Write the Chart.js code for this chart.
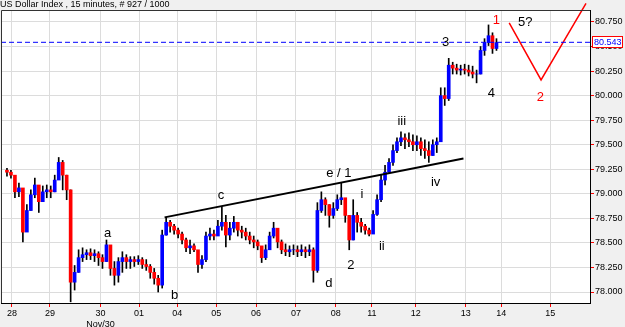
<!DOCTYPE html>
<html>
<head>
<meta charset="utf-8">
<title>US Dollar Index 15 minutes</title>
<script src="https://cdn.jsdelivr.net/npm/chart.js@4.4.1/dist/chart.umd.min.js"></script>
<style>
  html, body { margin: 0; padding: 0; background: #f0f0f0; }
  #wrap { width: 625px; height: 327px; }
</style>
</head>
<body>
<div id="wrap"><canvas id="chart" width="625" height="327"></canvas></div>
<script>
// ── Data ────────────────────────────────────────────────────
const chartTitle = "US Dollar Index , 15 minutes, # 927 / 1000";

// x axis is in bar slots (one slot per plotted bar)
const dayTicks = [2.75, 12.3, 25.0, 34.7, 44.3, 54.1, 64.1, 74.1, 84.1, 93.2, 104.2, 116.8, 125.7, 138.0];
const dayLabels = ["28", "29", ["30", "Nov/30"], "01", "04", "05", "06", "07", "08", "11", "12", "13", "14", "15"];
const priceTicks = [78.0, 78.25, 78.5, 78.75, 79.0, 79.25, 79.5, 79.75, 80.0, 80.25, 80.5, 80.75];

const firstOpen = 79.24;
const highs = [
  79.26, 79.24, 79.08, 79.11, 78.89, 78.89, 79.04, 79.16, 79.04, 79.08, 79.09, 79.08, 79.19, 79.37, 79.34, 79.19,
  79.04, 78.27, 78.43, 78.45, 78.43, 78.44, 78.43, 78.41, 78.38, 78.53, 78.38, 78.31, 78.35, 78.41, 78.38, 78.36, 78.36, 78.37,
  78.35, 78.33, 78.28, 78.24, 78.17, 78.63, 78.76, 78.73, 78.69, 78.65, 78.61, 78.55, 78.53, 78.49, 78.41, 78.37,
  78.61, 78.65, 78.63, 78.73, 78.87, 78.78, 78.71, 78.77, 78.71, 78.67, 78.65, 78.61, 78.57, 78.53, 78.45, 78.48,
  78.61, 78.71, 78.63, 78.53, 78.49, 78.47, 78.48, 78.47, 78.48, 78.46, 78.48, 78.45, 78.91, 79.02, 78.96, 78.89,
  78.91, 78.99, 79.11, 78.94, 78.78, 78.94, 78.81, 78.75, 78.69, 78.65, 78.83, 78.99, 79.19, 79.29, 79.36, 79.50,
  79.57, 79.63, 79.61, 79.62, 79.60, 79.59, 79.57, 79.55, 79.53, 79.55, 79.57, 80.08, 80.08, 80.38, 80.34, 80.32,
  80.31, 80.32, 80.31, 80.30, 80.26, 80.50, 80.58, 80.72, 80.64, 80.58
];
const lows = [
  79.18, 79.16, 78.96, 78.97, 78.51, 78.71, 78.83, 78.96, 78.81, 78.94, 78.96, 78.96, 79.02, 79.16, 79.04, 78.94,
  77.90, 78.02, 78.20, 78.31, 78.33, 78.33, 78.31, 78.27, 78.24, 78.31, 78.17, 78.07, 78.10, 78.20, 78.24, 78.24, 78.26, 78.28,
  78.24, 78.22, 78.14, 78.08, 78.00, 78.04, 78.58, 78.61, 78.59, 78.55, 78.49, 78.41, 78.39, 78.41, 78.20, 78.24,
  78.31, 78.53, 78.53, 78.59, 78.63, 78.46, 78.53, 78.61, 78.57, 78.55, 78.53, 78.49, 78.45, 78.43, 78.30, 78.33,
  78.45, 78.55, 78.45, 78.39, 78.37, 78.36, 78.38, 78.36, 78.37, 78.35, 78.37, 78.10, 78.20, 78.81, 78.78, 78.66,
  78.75, 78.83, 78.89, 78.71, 78.43, 78.53, 78.61, 78.61, 78.59, 78.57, 78.71, 78.78, 78.92, 79.09, 79.22, 79.29,
  79.42, 79.49, 79.46, 79.48, 79.44, 79.44, 79.39, 79.36, 79.32, 79.39, 79.42, 79.55, 79.90, 79.95, 80.22, 80.22,
  80.21, 80.22, 80.20, 80.18, 80.13, 80.22, 80.41, 80.51, 80.43, 80.46
];
const closes = [
  79.22, 79.19, 79.02, 79.06, 78.61, 78.83, 78.99, 79.09, 78.92, 79.02, 79.04, 79.02, 79.14, 79.32, 79.19, 79.04,
  78.10, 78.20, 78.35, 78.38, 78.40, 78.37, 78.39, 78.35, 78.31, 78.48, 78.24, 78.17, 78.31, 78.35, 78.31, 78.33, 78.31, 78.33,
  78.28, 78.26, 78.20, 78.14, 78.07, 78.58, 78.71, 78.67, 78.63, 78.59, 78.53, 78.45, 78.47, 78.43, 78.28, 78.33,
  78.57, 78.59, 78.57, 78.67, 78.71, 78.58, 78.65, 78.71, 78.63, 78.61, 78.57, 78.53, 78.51, 78.47, 78.35, 78.43,
  78.57, 78.65, 78.51, 78.43, 78.41, 78.43, 78.43, 78.41, 78.43, 78.41, 78.43, 78.22, 78.83, 78.94, 78.89, 78.78,
  78.85, 78.94, 78.96, 78.78, 78.53, 78.78, 78.71, 78.67, 78.63, 78.59, 78.79, 78.94, 79.14, 79.22, 79.32, 79.44,
  79.53, 79.57, 79.55, 79.53, 79.50, 79.53, 79.46, 79.44, 79.39, 79.50, 79.53, 80.00, 79.97, 80.31, 80.28, 80.26,
  80.27, 80.26, 80.24, 80.22, 80.22, 80.46, 80.54, 80.61, 80.48, 80.54
];
const lastPrice = 80.543;

// drawn lines: support trendline and the projected path
const trendX = [41.1, 116.2];
const trendY = [78.76, 79.36];
const projX = [127.7, 135.7, 147.0];
const projY = [80.74, 80.16, 80.94];

// wave counts written on the chart
const waveText = ["a", "b", "c", "d", "e / 1", "2", "i", "ii", "iii", "iv", "3", "4", "1", "5?", "2"];
const waveX = [26.8, 43.6, 55.3, 82.4, 84.9, 87.9, 90.7, 95.7, 100.7, 109.2, 111.7, 123.2, 124.5, 131.7, 135.5];
const waveY = [78.60, 77.97, 78.98, 78.09, 79.21, 78.27, 78.99, 78.46, 79.74, 79.12, 80.54, 80.02, 80.77, 80.75, 79.98];
const redWaves = [12, 14];

// ── Build datasets ──────────────────────────────────────────
const opens = closes.map((c, i) => (i === 0 ? firstOpen : closes[i - 1]));
const wickData = highs.map((h, i) => ({ x: i + 1.5, y: [lows[i], h] }));
const bodyData = closes.map((c, i) => ({ x: i + 1.5, y: [opens[i], c] }));
const bodyColors = closes.map((c, i) => (c >= opens[i] ? "#0000ff" : "#ff0000"));

const FONT = "'Liberation Sans', Arial, sans-serif";

// ── Decorations: backgrounds, frame, title, labels ──────────
const decor = {
  id: "decor",
  beforeDraw(chart) {
    const { ctx, chartArea: a } = chart;
    ctx.save();
    ctx.fillStyle = "#f0f0f0";
    ctx.fillRect(0, 0, chart.width, chart.height);
    ctx.fillStyle = "#ffffff";
    ctx.fillRect(a.left, a.top, a.right - a.left, a.bottom - a.top);
    ctx.restore();
  },
  afterDatasetsDraw(chart) {
    const { ctx, chartArea: a, scales } = chart;
    ctx.save();
    // left and top frame lines
    ctx.strokeStyle = "#333";
    ctx.lineWidth = 1;
    ctx.beginPath();
    ctx.moveTo(a.left + 0.5, a.bottom);
    ctx.lineTo(a.left + 0.5, a.top + 0.5);
    ctx.lineTo(a.right, a.top + 0.5);
    ctx.stroke();

    // wave labels
    ctx.font = "13px " + FONT;
    ctx.textAlign = "center";
    ctx.textBaseline = "middle";
    waveText.forEach((t, i) => {
      ctx.fillStyle = redWaves.includes(i) ? "#ff0000" : "#000000";
      ctx.fillText(t, scales.x.getPixelForValue(waveX[i]), scales.y.getPixelForValue(waveY[i]));
    });

    // title
    ctx.fillStyle = "#000";
    ctx.font = "9px " + FONT;
    ctx.textAlign = "left";
    ctx.fillText(chartTitle, 0, 5);

    // last price tag on the axis
    const py = Math.round(scales.y.getPixelForValue(lastPrice));
    const bx = a.right + 2;
    ctx.fillStyle = "#ffffff";
    ctx.fillRect(bx, py - 6, chart.width - bx - 2, 12);
    ctx.strokeStyle = "#ff0000";
    ctx.strokeRect(bx + 0.5, py - 5.5, chart.width - bx - 3, 11);
    ctx.fillStyle = "#0000ff";
    ctx.font = "9px " + FONT;
    ctx.fillText(lastPrice.toFixed(3), bx + 2, py + 0.5);
    ctx.restore();
  }
};

// ── Chart ───────────────────────────────────────────────────
new Chart(document.getElementById("chart"), {
  type: "bar",
  data: {
    datasets: [
      {
        label: "body",
        data: bodyData,
        backgroundColor: bodyColors,
        barThickness: 3,
        grouped: false,
        order: 1
      },
      {
        label: "wick",
        data: wickData,
        backgroundColor: "#000000",
        barThickness: 1,
        grouped: false,
        order: 2
      },
      {
        type: "line",
        label: "trend",
        data: trendX.map((x, i) => ({ x, y: trendY[i] })),
        borderColor: "#000000",
        borderWidth: 2,
        pointRadius: 0,
        order: 0
      },
      {
        type: "line",
        label: "last",
        data: [{ x: 0, y: lastPrice }, { x: 148, y: lastPrice }],
        borderColor: "#0000ff",
        borderWidth: 1,
        borderDash: [5, 3],
        pointRadius: 0,
        order: 0
      },
      {
        type: "line",
        label: "projection",
        data: projX.map((x, i) => ({ x, y: projY[i] })),
        borderColor: "#ff0000",
        borderWidth: 1.5,
        pointRadius: 0,
        clip: false,
        order: 0
      }
    ]
  },
  options: {
    responsive: false,
    animation: false,
    layout: { padding: { left: 1, top: 10, right: 0, bottom: 0 } },
    plugins: { legend: { display: false }, tooltip: { enabled: false }, title: { display: false } },
    scales: {
      x: {
        type: "linear",
        min: 0,
        max: 148,
        offset: false,
        grid: { color: "#dcdcdc", tickColor: "#ff0000", tickLength: 4, offset: false },
        border: { color: "#000000" },
        ticks: {
          autoSkip: false,
          maxRotation: 0,
          color: "#000",
          padding: 1,
          font: { family: FONT, size: 9 },
          callback: (v, i) => dayLabels[i]
        },
        afterBuildTicks: (s) => { s.ticks = dayTicks.map((v) => ({ value: v })); },
        afterFit: (s) => { s.height = 24; }
      },
      y: {
        position: "right",
        min: 77.888,
        max: 80.872,
        grid: { color: "#dcdcdc", tickColor: "#ff0000", tickLength: 4 },
        border: { color: "#000000" },
        ticks: {
          color: "#000",
          padding: 1,
          font: { family: FONT, size: 9 },
          callback: (v) => Number(v).toFixed(3)
        },
        afterBuildTicks: (s) => { s.ticks = priceTicks.map((v) => ({ value: v })); },
        afterFit: (s) => { s.width = 35; }
      }
    }
  },
  plugins: [decor]
});
</script>
</body>
</html>
